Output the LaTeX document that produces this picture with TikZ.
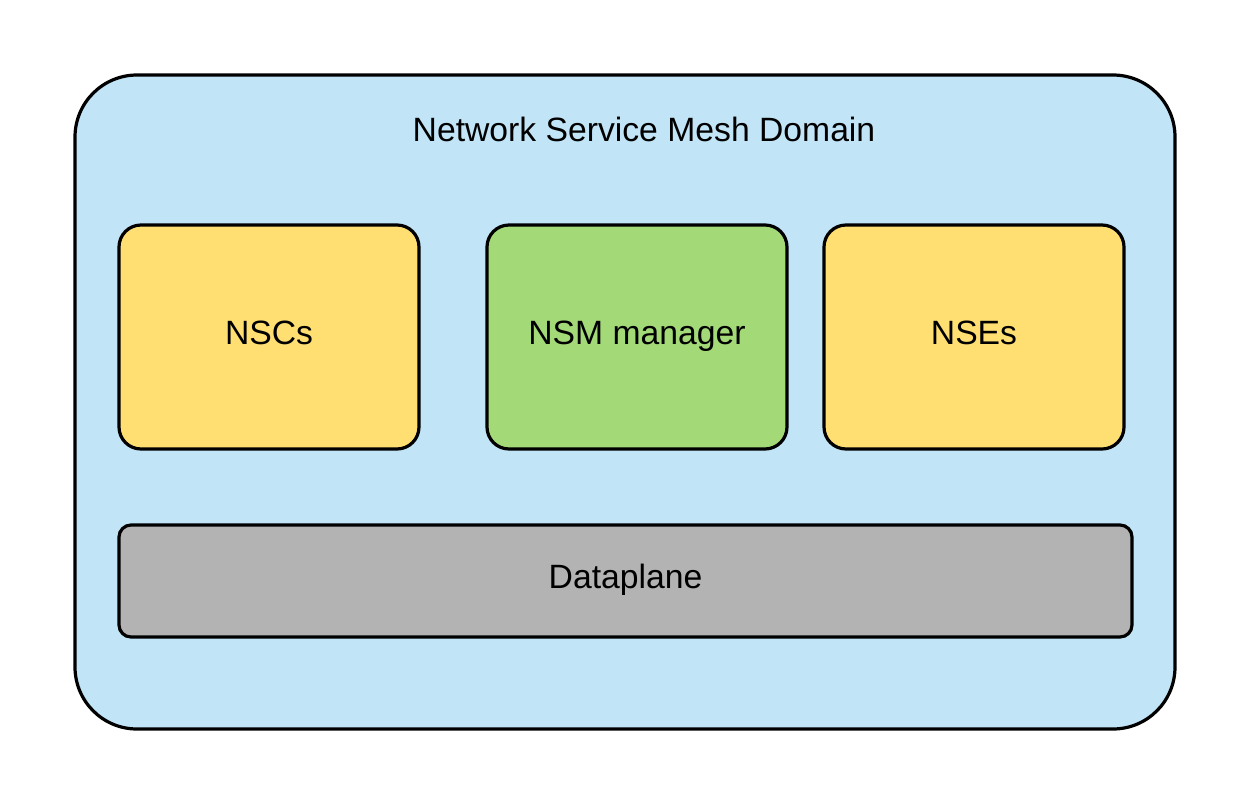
\documentclass[tikz,border=0pt]{standalone}
\usepackage{fontspec}
\setmainfont{Liberation Sans}
\definecolor{domblue}{HTML}{C1E4F7}
\definecolor{nsyellow}{HTML}{FFDF71}
\definecolor{nsgreen}{HTML}{A3D977}
\definecolor{dpgray}{HTML}{B3B3B3}
\tikzset{
  box/.style={draw=black, line width=3.2pt, rectangle, rounded corners=22pt,
    minimum width=300pt, minimum height=224pt, inner sep=0pt,
    font=\fontsize{33.7}{40}\selectfont, text height=24pt, text depth=9.8pt},
  domainbox/.style={draw=black, line width=3.2pt, rectangle, rounded corners=62pt,
    fill=domblue, minimum width=1100pt, minimum height=654pt, inner sep=0pt},
  titletext/.style={font=\fontsize{33.7}{40}\selectfont, inner sep=0pt, anchor=base}
}
\begin{document}
\begin{tikzpicture}[x=1pt, y=-1pt]
\useasboundingbox (0,0) rectangle (1251,804);
\node[domainbox] (domain) at (625,402) {};
\node[titletext] (title) at (644,141) {Network Service Mesh Domain};
\node[box, fill=nsyellow] (nscs) at (269,337) {NSCs};
\node[box, fill=nsgreen] (mgr) at (637,337) {NSM manager};
\node[box, fill=nsyellow] (nses) at (974,337) {NSEs};
\node[box, fill=dpgray, rounded corners=12pt, minimum width=1013pt, minimum height=112pt] (dp) at (625.5,581) {Dataplane};
\end{tikzpicture}
\end{document}
